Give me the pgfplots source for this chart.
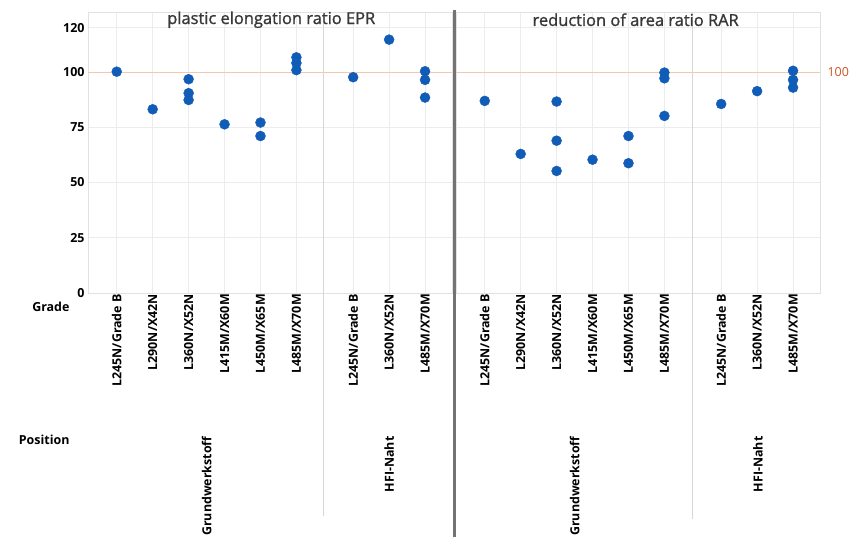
\documentclass[border=0pt]{standalone}
\usepackage{pgfplots}
\pgfplotsset{compat=1.18}
\usepackage{fontspec}
\setmainfont{Open Sans}
\newfontfamily\titlefont{Open Sans}[FakeBold=1.2]
\definecolor{dotblue}{RGB}{16,92,182}
\definecolor{refline}{RGB}{244,200,175}
\definecolor{reflab}{RGB}{205,85,35}
\definecolor{gridc}{RGB}{236,236,236}
\definecolor{framec}{RGB}{225,225,225}
\pgfplotsset{
  panel/.style={
    scale only axis, width=364bp, height=281bp,
    xmin=-0.8, xmax=9.33, ymin=0, ymax=127.1,
    xtick={0,1,2,3,4,5,6.58,7.58,8.58},
    xticklabels={L245N/Grade B,L290N/X42N,L360N/X52N,L415M/X60M,L450M/X65M,L485M/X70M,L245N/Grade B,L360N/X52N,L485M/X70M},
    xticklabel style={rotate=90, anchor=east, font=\fontsize{12.5}{14}\selectfont\bfseries, inner sep=1bp},
    ytick={0,25,50,75,100,120},
    grid=major, major grid style={gridc, line width=0.6bp},
    axis line style={framec}, tick style={draw=none},
    clip=false,
  }
}
\begin{document}
\begin{tikzpicture}
\path[use as bounding box] (0,0) rectangle (861bp,545bp);
% left panel
\begin{axis}[panel, at={(88bp,252bp)}, anchor=south west,
  yticklabel style={font=\fontsize{12.5}{14}\selectfont\bfseries, /pgf/number format/assume math mode=true},
  ]
\addplot[refline, line width=0.6bp] coordinates {(-0.8,100) (9.33,100)};
\draw[gridc!80!gray, line width=0.6bp] (axis cs:5.75,127.1) -- (axis cs:5.75,-101);
\addplot[only marks, mark=*, mark size=5bp, dotblue, mark options={draw=dotblue, fill=dotblue}] coordinates {
(0,100.1) (1,83.1) (2,96.7) (2,90.4) (2,87.3) (3,76.3) (4,77.1) (4,71.0)
(5,106.6) (5,104.0) (5,100.8) (6.58,97.6) (7.58,114.6) (8.58,100.3) (8.58,96.4) (8.58,88.4)};
\node[font=\titlefont\fontsize{16.5}{18}\selectfont, text=black!78] at (axis cs:4.3,123.6) {plastic elongation ratio EPR};
\node[rotate=90, anchor=east, font=\fontsize{12.5}{14}\selectfont\bfseries] at (axis cs:2.5,-63.3) {Grundwerkstoff};
\node[rotate=90, anchor=east, font=\fontsize{12.5}{14}\selectfont\bfseries] at (axis cs:7.58,-63.3) {HFI-Naht};
\end{axis}
% right panel
\begin{axis}[panel, at={(456bp,252bp)}, anchor=south west, yticklabels={}]
\addplot[refline, line width=0.6bp] coordinates {(-0.8,100) (9.33,100)};
\draw[gridc!80!gray, line width=0.6bp] (axis cs:5.78,127.1) -- (axis cs:5.78,-102);
\addplot[only marks, mark=*, mark size=5bp, dotblue, mark options={draw=dotblue, fill=dotblue}] coordinates {
(0,86.9) (1,62.9) (2,86.6) (2,68.9) (2,55.2) (3,60.3) (4,71.0) (4,58.7)
(5,99.7) (5,97.1) (5,80.1) (6.58,85.5) (7.58,91.3) (8.58,100.5) (8.58,96.4) (8.58,92.9)};
\node[font=\titlefont\fontsize{16.5}{18}\selectfont, text=black!78] at (axis cs:4.2,123.6) {reduction of area ratio RAR};
\node[anchor=west, text=reflab, font=\fontsize{12.5}{14}\selectfont] at (axis cs:9.33,100) {\hspace{4bp}100};
\node[rotate=90, anchor=east, font=\fontsize{12.5}{14}\selectfont\bfseries] at (axis cs:2.5,-63.3) {Grundwerkstoff};
\node[rotate=90, anchor=east, font=\fontsize{12.5}{14}\selectfont\bfseries] at (axis cs:7.6,-63.3) {HFI-Naht};
\end{axis}
\draw[black!55, line width=3bp] (454bp,535bp) -- (454bp,8bp);
\node[anchor=east, font=\fontsize{12.5}{14}\selectfont\bfseries] at (73bp,238bp) {Grade};
\node[anchor=east, font=\fontsize{12.5}{14}\selectfont\bfseries] at (73bp,105bp) {Position};
\end{tikzpicture}
\end{document}
